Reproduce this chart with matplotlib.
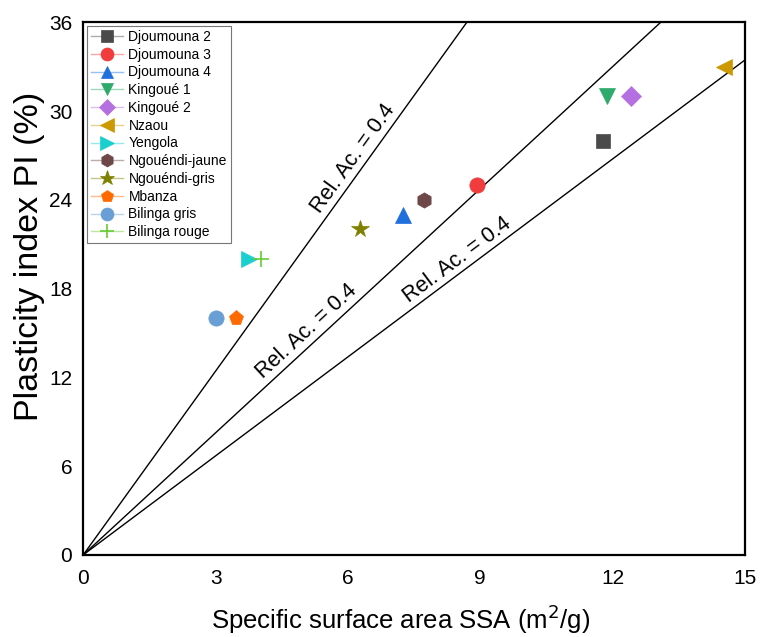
import numpy as np
import matplotlib
matplotlib.use('Agg')
import matplotlib.pyplot as plt

plt.rcParams['font.family'] = ['Liberation Sans', 'DejaVu Sans']

names = ['Djoumouna 2', 'Djoumouna 3', 'Djoumouna 4', 'Kingoué 1', 'Kingoué 2',
         'Nzaou', 'Yengola', 'Ngouéndi-jaune', 'Ngouéndi-gris', 'Mbanza',
         'Bilinga gris', 'Bilinga rouge']
ssa = [11.78, 8.93, 7.25, 11.87, 12.42, 14.52, 3.76, 7.73, 6.28, 3.47, 3.01, 4.03]
pi = [28, 25, 23, 31, 31, 33, 20, 24, 22, 16, 16, 20]
markers = ['s', 'o', '^', 'v', 'D', '<', '>', 'h', '*', 'p', 'o', '+']
colors = ['#4a4a4a', '#f03c3c', '#1f6fdc', '#2eaa6a', '#b470e0', '#cc9900',
          '#1ccfcf', '#6e4848', '#808000', '#ff6a00', '#6a9fd6', '#66cc33']
sizes = [10, 11, 11, 11, 10, 12, 12, 11, 13, 11, 11, 12]

# reference lines through the origin
slopes = [4.14, 2.75, 2.23]
label_x = [6.35, 5.26, 8.64]
label_text = 'Rel. Ac. = 0.4'

fig, ax = plt.subplots(figsize=(7.64, 6.37), dpi=100)
fig.subplots_adjust(left=0.109, right=0.975, bottom=0.129, top=0.965)
ax.set_xlim(0, 15)
ax.set_ylim(0, 36)

xs = np.array([0, 16])
for s, x0 in zip(slopes, label_x):
    ax.plot(xs, s * xs, color='black', lw=1.0)
    p0 = ax.transData.transform((0, 0))
    p1 = ax.transData.transform((1, s))
    th = np.arctan2(p1[1] - p0[1], p1[0] - p0[0])
    ax.annotate(label_text, xy=(x0, s * x0),
                xytext=(-np.sin(th) * 1.5, np.cos(th) * 1.5),
                textcoords='offset points', rotation=np.degrees(th),
                rotation_mode='anchor', ha='center', va='bottom', fontsize=15.5)

for n, x, y, m, c, ms in zip(names, ssa, pi, markers, colors, sizes):
    light = matplotlib.colors.to_rgba(c, 0.45)
    ax.plot([x], [y], marker=m, ms=ms, color=light, mfc=c, mec=c,
            mew=1.2 if m == '+' else 0.5, linestyle='-', lw=1.0, label=n)

ax.set_xticks([0, 3, 6, 9, 12, 15])
ax.set_yticks([0, 6, 12, 18, 24, 30, 36])
ax.tick_params(labelsize=15, length=0)
ax.tick_params(axis='x', pad=10)
ax.tick_params(axis='y', pad=8)
for sp in ax.spines.values():
    sp.set_linewidth(1.6)

ax.set_xlabel('Specific surface area SSA (m$^2$/g)', fontsize=18.5)
ax.set_ylabel('Plasticity index PI (%)', fontsize=24.5)
ax.xaxis.set_label_coords(0.479, -0.089)
ax.yaxis.set_label_coords(-0.058, 0.56)

leg = ax.legend(loc='upper left', fontsize=10, frameon=True, fancybox=False,
                edgecolor='#555555', borderaxespad=0.25, handlelength=2.3,
                labelspacing=0.27, borderpad=0.3, handletextpad=0.4,
                markerscale=0.85)
leg.get_frame().set_linewidth(0.8)

plt.savefig('out.png', dpi=100)
